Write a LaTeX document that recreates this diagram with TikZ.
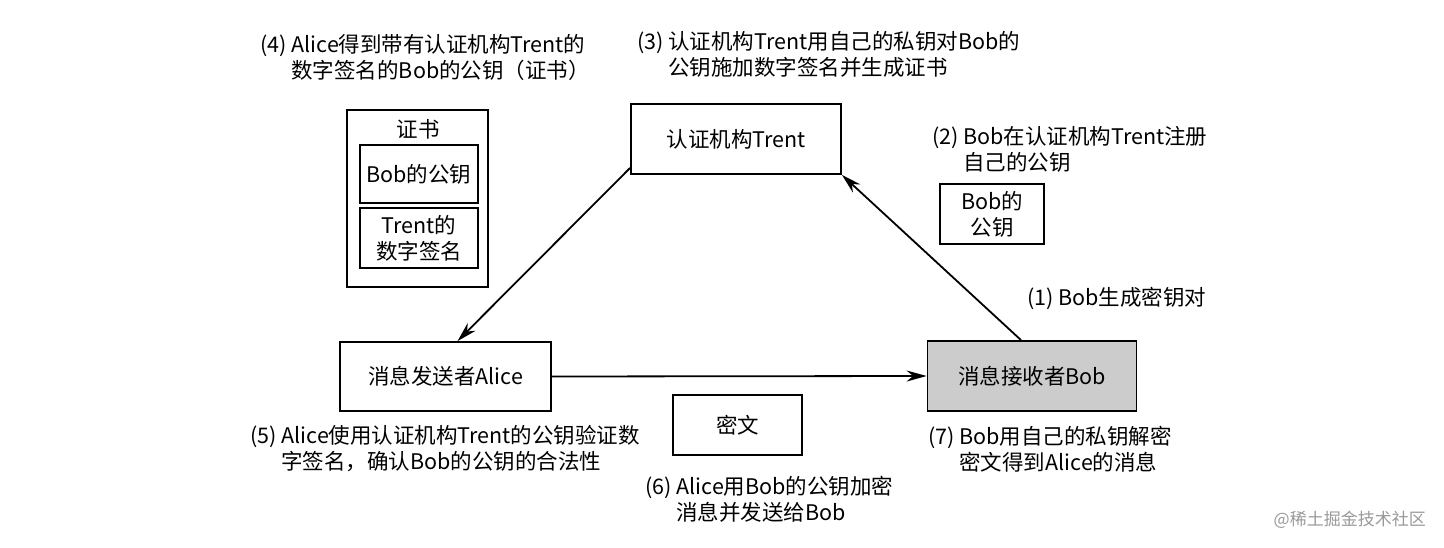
\documentclass[tikz,border=0pt]{standalone}
\usepackage{fontspec}
\setmainfont{Noto Sans CJK SC}
\usetikzlibrary{arrows.meta}
\begin{document}
\begin{tikzpicture}[x=1pt,y=-1pt, font=\fontsize{21.5}{26}\selectfont,
  box/.style={draw, line width=1.8pt, inner sep=0pt, align=center},
  lbl/.style={align=left, anchor=west, inner sep=0pt},
  arr/.style={line width=1.8pt, -{Stealth[length=20pt,width=11pt]}}]
\useasboundingbox (0,0) rectangle (1444,548);

\node[box, minimum width=210, minimum height=70] (trent) at (736,139) {认证机构Trent};
\node[box, minimum width=211, minimum height=69] (alice) at (445.5,376.5) {消息发送者Alice};
\node[box, fill=black!20, minimum width=209, minimum height=70] (bob) at (1032,376) {消息接收者Bob};
\node[box, minimum width=129, minimum height=60] (cipher) at (737.5,425) {密文};

\node[box, minimum width=141, minimum height=177] (cert) at (417.5,198.5) {};
\node (certtitle) at (418,129) {证书};
\node[box, minimum width=118, minimum height=58] (bobkey) at (419,174) {Bob的公钥};
\node[box, minimum width=118, minimum height=60] (trentsig) at (419,238) {Trent的\\数字签名};
\node[box, minimum width=104, minimum height=60] (regkey) at (992,214) {Bob的\\公钥};

\draw[arr] ([yshift=7pt]trent.south west) -- ([xshift=12pt]alice.north);
\draw[arr] ([xshift=-11pt]bob.north) -- (trent.south east);
\draw[arr] (alice.east) -- (bob.west);

\node[lbl] (stepone) at (1027,298) {(1) Bob生成密钥对};
\node[lbl] (steptwo) at (932,149) {(2) Bob在认证机构Trent注册\\\hphantom{(2) }自己的公钥};
\node[lbl] (stepthree) at (637,54) {(3) 认证机构Trent用自己的私钥对Bob的\\\hphantom{(3) }公钥施加数字签名并生成证书};
\node[lbl] (stepfour) at (260,57) {(4) Alice得到带有认证机构Trent的\\\hphantom{(4) }数字签名的Bob的公钥（证书）};
\node[lbl] (stepfive) at (250,449) {(5) Alice使用认证机构Trent的公钥验证数\\\hphantom{(5) }字签名，确认Bob的公钥的合法性};
\node[lbl] (stepsix) at (645,499) {(6) Alice用Bob的公钥加密\\\hphantom{(6) }消息并发送给Bob};
\node[lbl] (stepseven) at (928,449) {(7) Bob用自己的私钥解密\\\hphantom{(7) }密文得到Alice的消息};

\node[anchor=east, inner sep=0pt, text=black!40, font=\fontsize{17}{20}\selectfont] (mark) at (1426,520) {@稀土掘金技术社区};
\end{tikzpicture}
\end{document}
